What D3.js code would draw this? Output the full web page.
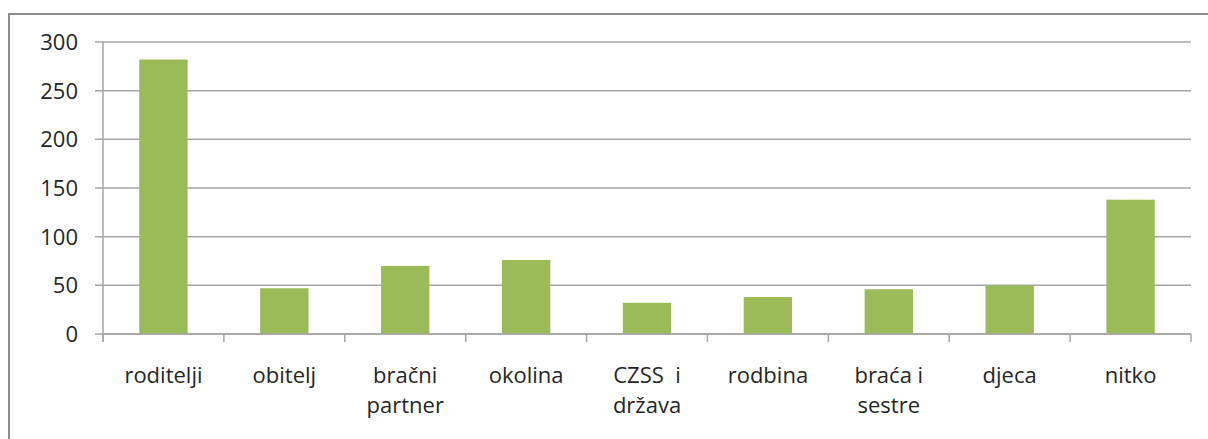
<!DOCTYPE html>
<html><head><meta charset="utf-8">
<script src="https://cdn.jsdelivr.net/npm/d3@7"></script>
<style>html,body{margin:0;padding:0;background:#fff;}svg{display:block;} text{white-space:pre;}</style>
</head><body>
<script>
const categories = ["roditelji","obitelj","bračni partner","okolina","CZSS  i država","rodbina","braća i sestre","djeca","nitko"];
const tickLabelLines = [["roditelji"],["obitelj"],["bračni","partner"],["okolina"],["CZSS  i","država"],["rodbina"],["braća i","sestre"],["djeca"],["nitko"]];
const values = [282,47,70,76,32,38,46,50,138];
const yTicks = [0,50,100,150,200,250,300];

const W=1208,H=439;
const svg=d3.select("body").append("svg").attr("width",W).attr("height",H);
// outer border
svg.append("rect").attr("x",9).attr("y",14).attr("width",W+10).attr("height",H+10)
  .attr("fill","none").attr("stroke","#8c8c8c").attr("stroke-width",2);

const pLeft=103,pRight=1191,pTop=42,pBottom=334;
const x=d3.scaleBand().domain(categories).range([pLeft,pRight]).paddingInner(0.6).paddingOuter(0.3);
const xb=d3.scaleBand().domain(categories).range([pLeft,pRight]);
const y=d3.scaleLinear().domain([0,300]).range([pBottom,pTop]);
const font="'Open Sans', sans-serif";

// gridlines
svg.append("g").selectAll("line").data(yTicks).join("line")
  .attr("x1",pLeft-8).attr("x2",pRight).attr("y1",d=>y(d)).attr("y2",d=>y(d))
  .attr("stroke","#a6a6a6").attr("stroke-width",1.5);
// y axis line
svg.append("line").attr("x1",pLeft).attr("x2",pLeft).attr("y1",pTop).attr("y2",pBottom+8)
  .attr("stroke","#a6a6a6").attr("stroke-width",1.5);
// y labels
svg.append("g").selectAll("text").data(yTicks).join("text")
  .attr("x",78).attr("y",d=>y(d)).attr("dy","0.36em").attr("text-anchor","end")
  .attr("font-family",font).attr("font-size",22).attr("fill","#262626").text(d=>d);

// bars
svg.append("g").selectAll("rect").data(values).join("rect")
  .attr("x",(d,i)=>x(categories[i])).attr("width",x.bandwidth())
  .attr("y",d=>y(d)).attr("height",d=>y(0)-y(d)).attr("fill","#9bbb59");

// x axis ticks
const bounds=categories.map(c=>xb(c)).concat([pRight]);
svg.append("g").selectAll("line").data(bounds).join("line")
  .attr("x1",d=>d).attr("x2",d=>d).attr("y1",pBottom).attr("y2",pBottom+8)
  .attr("stroke","#a6a6a6").attr("stroke-width",1.5);
svg.append("line").attr("x1",pLeft).attr("x2",pRight).attr("y1",pBottom).attr("y2",pBottom)
  .attr("stroke","#a6a6a6").attr("stroke-width",1.5);

// x labels
const xl=svg.append("g").selectAll("text").data(categories).join("text")
  .attr("text-anchor","middle").attr("font-family",font).attr("font-size",22).attr("fill","#262626")
  .attr("xml:space","preserve")
  .attr("transform",c=>`translate(${xb(c)+xb.bandwidth()/2},383)`);
xl.selectAll("tspan").data((c,i)=>tickLabelLines[i]).join("tspan")
  .attr("x",0).attr("y",(d,j)=>j*30).text(d=>d);
</script>
</body></html>
